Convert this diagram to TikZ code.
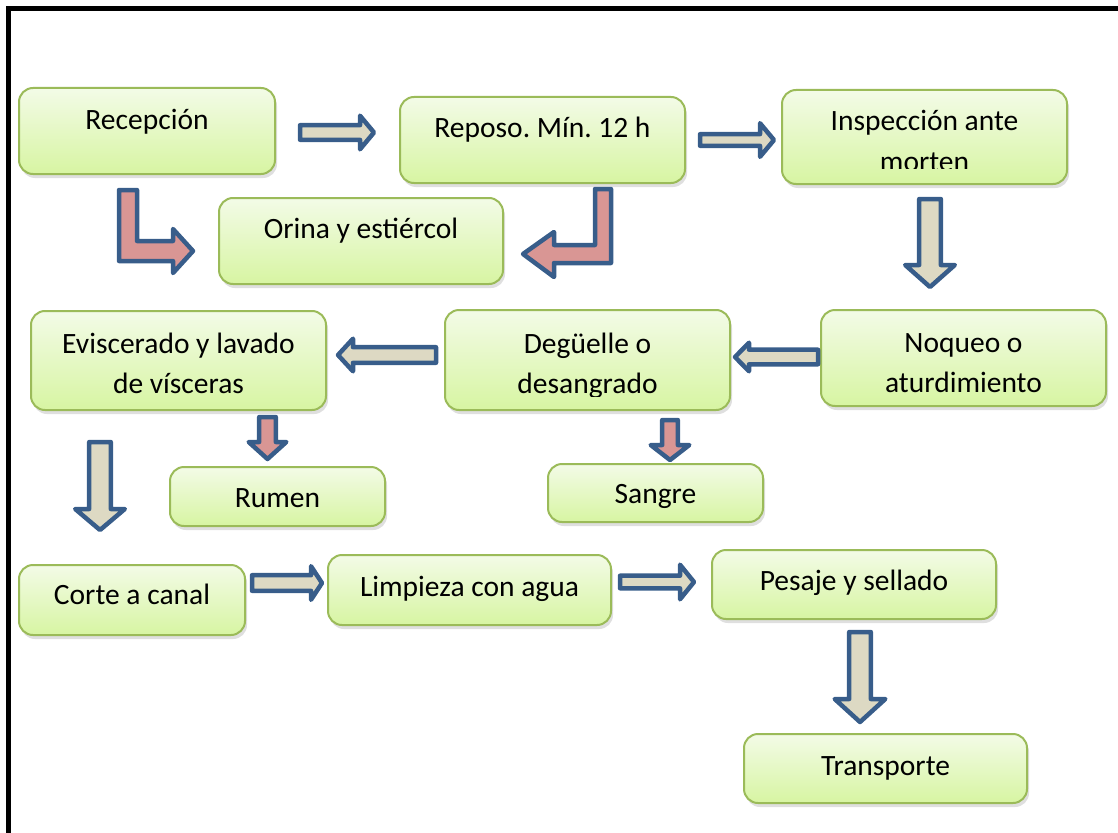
\documentclass[tikz,border=0pt]{standalone}
\usepackage{fontspec}
\setmainfont{Carlito}
\usetikzlibrary{shadows}
\frenchspacing

\definecolor{azul}{RGB}{56,93,138}
\definecolor{beige}{RGB}{221,217,195}
\definecolor{rosa}{RGB}{217,150,148}
\definecolor{verdeborde}{RGB}{155,187,89}
\definecolor{verdearriba}{RGB}{243,251,231}
\definecolor{verdeabajo}{RGB}{215,245,162}

% block arrow: fill, start, angle, length, shaft half, head half, head length
\newcommand{\flecha}[7]{%
  \begin{scope}[shift={#2},rotate=#3]
    \draw[bloque=#1] (0,-#5) -- ({#4-#7},-#5) -- ({#4-#7},-#6) -- (#4,0)
      -- ({#4-#7},#6) -- ({#4-#7},#5) -- (0,#5) -- cycle;
  \end{scope}}

\begin{document}
\begin{tikzpicture}
[   x=1pt, y=-1pt,
    caja/.style={draw=verdeborde,line width=2pt,rounded corners=14pt,
      top color=verdearriba,bottom color=verdeabajo,inner sep=0pt,
      drop shadow={shadow xshift=2pt,shadow yshift=-4pt,opacity=0.25}},
    texto/.style={anchor=base,align=center,inner sep=0pt,
      font=\fontsize{29.5}{40}\selectfont},
    bloque/.style={draw=azul,fill=#1,line width=4.5pt,line join=round},
]
    \clip (0,0) rectangle (1118,832);
    \draw[line width=4.5pt] (8.5,840) -- (8.5,8.5) -- (1125,8.5);

    % boxes
    \foreach \n/\x/\y/\w/\h in {rec/147/131/256/86, rep/542.5/140/285/86,
        insp/924.5/137/285/94, ori/361/241/284/86, evis/178.5/360.5/295/99,
        deg/587.5/360/285/100, noq/963.5/358/285/96, rum/277.5/496.5/215/59,
        san/655.5/493/215/58, cor/132/600/226/70, lim/469.5/590/283/70,
        pes/854/584.5/284/69, tra/885.5/768.5/283/69}
    {   \node[caja,minimum width=\w pt,minimum height=\h pt] (\n) at (\x,\y) {};
    }

    % texts (base = last line)
    \foreach \n/\x/\y/\t in {rec/147/129/Recepción, rep/542.5/138/Reposo. Mín. 12 h,
        ori/361/238/Orina y estiércol, evis/178.5/393/{Eviscerado y lavado\\de vísceras},
        noq/963.5/392/{Noqueo o\\aturdimiento}, rum/277.5/507/Rumen,
        san/655.5/503/Sangre, cor/132/604/Corte a canal,
        lim/469.5/596/Limpieza con agua, pes/854/590/Pesaje y sellado,
        tra/885.5/775/Transporte}
    {   \node[texto] (\n-t) at (\x,\y) {\t};
    }
    \begin{scope}
        \clip (780,88) rectangle (1069,168.5);
        \node[texto] (insp-t) at (924.5,171) {Inspección ante\\morten};
    \end{scope}
    \begin{scope}
        \clip (443,308) rectangle (732,396);
        \node[texto] (deg-t) at (587.5,393) {Degüelle o\\desangrado};
    \end{scope}

    % straight block arrows
    \flecha{beige}{(300,132.5)}{0}{74}{7.3}{16.8}{14}
    \flecha{beige}{(700,140)}{0}{74}{5.8}{16.8}{14}
    \flecha{beige}{(252,583)}{0}{70}{7.8}{16.8}{11}
    \flecha{beige}{(620,582)}{0}{74}{6.3}{17.3}{14}
    \flecha{beige}{(818,357)}{180}{83}{7.3}{14.3}{14}
    \flecha{beige}{(436,355)}{180}{98}{7.8}{16.3}{15}
    \flecha{beige}{(930,199)}{-90}{88}{10.8}{24.8}{22}
    \flecha{beige}{(100,442)}{-90}{88}{10.8}{24.8}{21}
    \flecha{beige}{(860,632)}{-90}{90}{10.8}{25.3}{23}
    \flecha{rosa}{(267.5,417)}{-90}{42}{8.3}{18.8}{17}
    \flecha{rosa}{(670,420)}{-90}{40}{7.8}{19.3}{15}

    % bent arrows to Orina y estiercol
    \draw[bloque=rosa] (119,190) -- (137,190) -- (137,241) -- (173,241) -- (173,229)
        -- (193,251) -- (173,273) -- (173,261) -- (119,261) -- cycle;
    \draw[bloque=rosa] (611,189) -- (595,189) -- (595,245) -- (554,245) -- (554,232)
        -- (523,254) -- (554,277) -- (554,263) -- (611,263) -- cycle;
\end{tikzpicture}
\end{document}
